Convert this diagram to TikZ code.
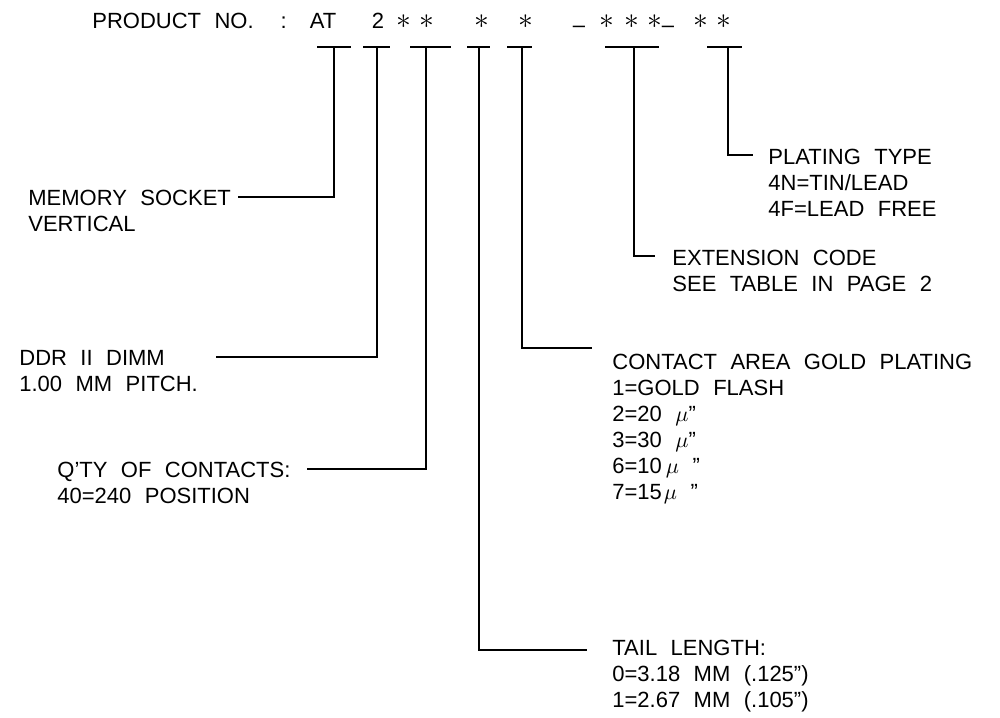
\documentclass[tikz,border=0pt]{standalone}
\usepackage{fontspec}
\setmainfont{Liberation Sans}[WordSpace=2.2]
\begin{document}
\begin{tikzpicture}[x=0.5pt, y=-0.5pt,
  font=\fontsize{11}{13}\selectfont,
  lbl/.style={anchor=north west, inner sep=0pt, align=left},
  code/.style={anchor=base, inner sep=0pt},
  lead/.style={line width=0.6pt}]
\useasboundingbox (0,0) rectangle (1000,717);
% part number
\node[lbl] (title) at (92,13) {PRODUCT NO.\ \ :};
\node[code] (cAT) at (323,28.75) {AT};
\node[code] (c2) at (378,28.75) {2};
\foreach \x/\n in {404/s1, 427/s2, 482/s3, 526/s4, 607/s5, 632/s6, 655/s7, 701/s8, 724/s9}
  \node[code] (\n) at (\x,28.75) {\scalebox{1.35}{$\ast$}};
\foreach \x/\n in {579/d1, 668/d2}
  \node[code] (\n) at (\x,28.75) {\raisebox{-0.15em}{\textendash}};
% bars under the code
\foreach \n/\s/\l/\r in {bAT/334/317/351, b2/377/363/390, bQ/426/410/451,
    bT/479/467/490, bG/522/507/532, bE/634/605/659, bP/728/707/742} {
  \coordinate (\n) at (\s,47);
  \draw[lead] (\l,47) -- (\r,47);
}
% labels
\node[lbl] (mem) at (28,190) {MEMORY SOCKET\\VERTICAL};
\node[lbl] (ddr) at (19,350) {DDR II DIMM\\1.00 MM PITCH.};
\node[lbl] (qty) at (57,462) {Q’TY OF CONTACTS:\\40=240 POSITION};
\node[lbl] (plat) at (768,149) {PLATING TYPE\\4N=TIN/LEAD\\4F=LEAD FREE};
\node[lbl] (ext) at (672,250) {EXTENSION CODE\\SEE TABLE IN PAGE 2};
\node[lbl] (gold) at (612,354) {CONTACT AREA GOLD PLATING\\1=GOLD FLASH\\
  2=20 $\mu$”\\3=30 $\mu$”\\6=10\kern2pt$\mu$\ ”\\7=15\kern1pt$\mu$\ ”};
\node[lbl] (tail) at (612,640) {TAIL LENGTH:\\0=3.18 MM (.125”)\\1=2.67 MM (.105”)};
% leader ends
\coordinate (memEnd) at (238,197);
\coordinate (ddrEnd) at (216,357);
\coordinate (qtyEnd) at (307,469);
\coordinate (tailEnd) at (587,650);
\coordinate (goldEnd) at (592,348);
\coordinate (extEnd) at (655,256);
\coordinate (platEnd) at (753,155);
\draw[lead] (bAT) |- (memEnd);
\draw[lead] (b2) |- (ddrEnd);
\draw[lead] (bQ) |- (qtyEnd);
\draw[lead] (bT) |- (tailEnd);
\draw[lead] (bG) |- (goldEnd);
\draw[lead] (bE) |- (extEnd);
\draw[lead] (bP) |- (platEnd);
\end{tikzpicture}
\end{document}
